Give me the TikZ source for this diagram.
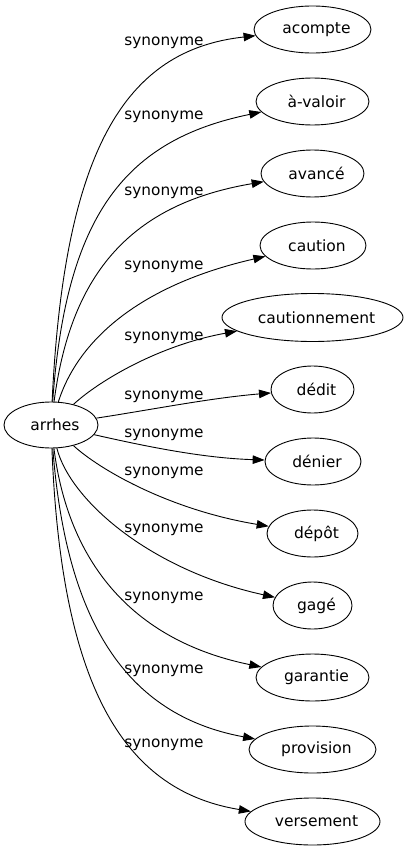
\documentclass[tikz,border=0pt]{standalone}
\usepackage{fontspec}
\setmainfont{DejaVu Sans}
\usetikzlibrary{arrows.meta,shapes.geometric}
\tikzset{
  word/.style={draw, ellipse, line width=0.9pt, inner sep=0pt, minimum height=47pt, font=\fontsize{15.5}{18}\selectfont, execute at begin node={\hspace*{8pt}}},
  lab/.style={inner sep=0pt, font=\fontsize{15.3}{18}\selectfont},
  link/.style={line width=0.9pt, -{Triangle[length=12pt,width=8.5pt]}}
}
\begin{document}
\begin{tikzpicture}[x=1pt,y=-1pt]
\useasboundingbox (0,0) rectangle (409,851);
\node[word, minimum width=94pt, minimum height=46pt] (arrhes) at (51,425) {arrhes};
\node[word, minimum width=117pt] (n1) at (312.5,29.5) {acompte};
\node[word, minimum width=113pt] (n2) at (312.5,101.5) {à-valoir};
\node[word, minimum width=103pt] (n3) at (312.5,173.5) {avancé};
\node[word, minimum width=106pt] (n4) at (313,245.5) {caution};
\node[word, minimum width=181pt, minimum height=48pt] (n5) at (312.5,317.5) {cautionnement};
\node[word, minimum width=83pt] (n6) at (312.5,389.5) {dédit};
\node[word, minimum width=96pt] (n7) at (313,461.5) {dénier};
\node[word, minimum width=91pt] (n8) at (312.5,533.5) {dépôt};
\node[word, minimum width=79pt] (n9) at (312.5,605.5) {gagé};
\node[word, minimum width=113pt] (n10) at (312.5,677.5) {garantie};
\node[word, minimum width=127pt] (n11) at (312.5,749.5) {provision};
\node[word, minimum width=135pt] (n12) at (312.5,821.5) {versement};

\node[lab] (l1) at (164,43) {synonyme};
\node[lab] (l2) at (164,117) {synonyme};
\node[lab] (l3) at (164,193) {synonyme};
\node[lab] (l4) at (164,267) {synonyme};
\node[lab] (l5) at (164,338) {synonyme};
\node[lab] (l6) at (164,397) {synonyme};
\node[lab] (l7) at (164,435) {synonyme};
\node[lab] (l8) at (164,473) {synonyme};
\node[lab] (l9) at (164,530) {synonyme};
\node[lab] (l10) at (164,598) {synonyme};
\node[lab] (l11) at (164,671) {synonyme};
\node[lab] (l12) at (164,745) {synonyme};

\draw[link] (arrhes) .. controls (64,150) and (125,50) .. (n1);
\draw[link] (arrhes) .. controls (66,215) and (125,140) .. (n2);
\draw[link] (arrhes) .. controls (70,280) and (125,205) .. (n3);
\draw[link] (arrhes) .. controls (78,340) and (140,285) .. (n4);
\draw[link] (arrhes) .. controls (100,380) and (160,345) .. (n5);
\draw[link] (arrhes) .. controls (150,410) and (210,398) .. (n6);
\draw[link] (arrhes) .. controls (140,445) and (200,458) .. (n7);
\draw[link] (arrhes) .. controls (100,470) and (170,510) .. (n8);
\draw[link] (arrhes) .. controls (70,500) and (150,570) .. (n9);
\draw[link] (arrhes) .. controls (68,560) and (130,640) .. (n10);
\draw[link] (arrhes) .. controls (66,620) and (125,715) .. (n11);
\draw[link] (arrhes) .. controls (61,680) and (120,790) .. (n12);
\end{tikzpicture}
\end{document}
